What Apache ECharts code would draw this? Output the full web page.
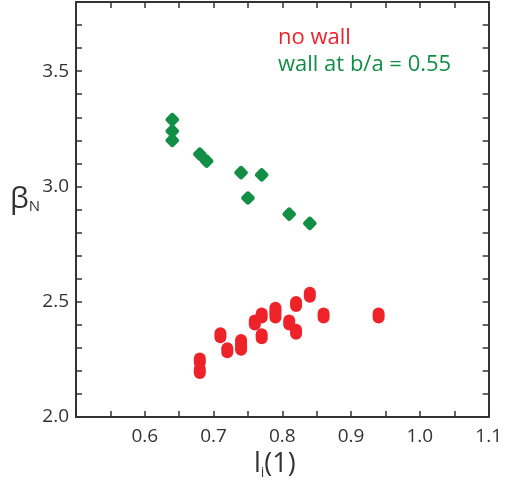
<!DOCTYPE html>
<html>
<head>
<meta charset="utf-8">
<script src="https://cdn.jsdelivr.net/npm/echarts@6/dist/echarts.min.js"></script>
<style>
  html, body { margin: 0; padding: 0; background: #fff; }
  #chart { width: 505px; height: 490px; }
</style>
</head>
<body>
<div id="chart"></div>
<script>
// l_i(1) vs beta_N
var noWallX = [0.68, 0.68, 0.71, 0.72, 0.74, 0.74, 0.76, 0.77, 0.77, 0.79, 0.79, 0.81, 0.82, 0.82, 0.84, 0.86, 0.94];
var noWallY = [2.245, 2.20, 2.355, 2.29, 2.325, 2.30, 2.41, 2.44, 2.35, 2.465, 2.44, 2.41, 2.49, 2.37, 2.53, 2.44, 2.44];
var wallX = [0.64, 0.64, 0.64, 0.68, 0.69, 0.74, 0.77, 0.75, 0.81, 0.84];
var wallY = [3.29, 3.24, 3.20, 3.14, 3.11, 3.06, 3.05, 2.95, 2.88, 2.84];
var xLabels = ['0.6', '0.7', '0.8', '0.9', '1.0', '1.1'];
var yLabels = ['2.0', '2.5', '3.0', '3.5'];

var red = '#ee2229';
var green = '#128f45';
var font = '"Open Sans", "DejaVu Sans", sans-serif';

function pairs(xs, ys) {
    return xs.map(function (x, i) { return [x, ys[i]]; });
}

function axisLine() {
    return { show: true, onZero: false, lineStyle: { color: '#333', width: 2 } };
}
function tick() {
    return { show: true, inside: true, length: 6, lineStyle: { color: '#333', width: 1.5 } };
}

var myChart = echarts.init(document.getElementById('chart'));

var option = {
    animation: false,
    grid: { left: 76, right: 13, top: 2, bottom: 73 },
    xAxis: [
        {
            type: 'value', min: 0.5, max: 1.1, interval: 0.05,
            axisLine: axisLine(), axisTick: tick(), splitLine: { show: false },
            axisLabel: {
                margin: 10, fontSize: 19, color: '#333', fontFamily: font,
                formatter: function (v) {
                    var s = v.toFixed(1);
                    return (Math.abs(v - parseFloat(s)) < 1e-6 && xLabels.indexOf(s) >= 0) ? s : '';
                }
            }
        },
        {
            type: 'value', position: 'top', min: 0.5, max: 1.1, interval: 0.05,
            axisLine: axisLine(), axisTick: tick(), splitLine: { show: false },
            axisLabel: { show: false }
        }
    ],
    yAxis: [
        {
            type: 'value', min: 2.0, max: 3.8, interval: 0.1,
            axisLine: axisLine(), axisTick: tick(), splitLine: { show: false },
            axisLabel: {
                margin: 7, fontSize: 19, color: '#333', fontFamily: font,
                formatter: function (v) {
                    var s = v.toFixed(1);
                    return yLabels.indexOf(s) >= 0 ? s : '';
                }
            }
        },
        {
            type: 'value', position: 'right', min: 2.0, max: 3.8, interval: 0.1,
            axisLine: axisLine(), axisTick: tick(), splitLine: { show: false },
            axisLabel: { show: false }
        }
    ],
    series: [
        {
            name: 'no wall',
            type: 'scatter',
            data: pairs(noWallX, noWallY),
            symbol: 'path://M0,6A6,6,0,0,1,12,6L12,10A6,6,0,0,1,0,10Z',
            symbolSize: [12, 16],
            itemStyle: { color: red, opacity: 1 }
        },
        {
            name: 'wall at b/a = 0.55',
            type: 'scatter',
            data: pairs(wallX, wallY),
            symbol: 'roundRect',
            symbolSize: 11,
            symbolRotate: 45,
            itemStyle: { color: green, opacity: 1 }
        }
    ],
    graphic: [
        {
            type: 'text', left: 278, top: 27,
            style: { text: 'no wall', fill: red, fontSize: 22, fontFamily: font }
        },
        {
            type: 'text', left: 278, top: 54,
            style: { text: 'wall at b/a = 0.55', fill: green, fontSize: 22, fontFamily: font }
        },
        {
            type: 'text', left: 10, top: 184,
            style: {
                text: '{b|β}{s|N}',
                rich: {
                    b: { fontSize: 30, fill: '#333', fontFamily: font },
                    s: { fontSize: 15, fill: '#333', fontFamily: font, padding: [16, 0, 0, 0] }
                }
            }
        },
        {
            type: 'text', left: 254, top: 451,
            style: {
                text: '{b|l}{s|i}{b|(1)}',
                rich: {
                    b: { fontSize: 27, fill: '#333', fontFamily: font },
                    s: { fontSize: 14, fill: '#333', fontFamily: font, padding: [18, 0, 0, 0] }
                }
            }
        }
    ]
};

myChart.setOption(option);
</script>
</body>
</html>
